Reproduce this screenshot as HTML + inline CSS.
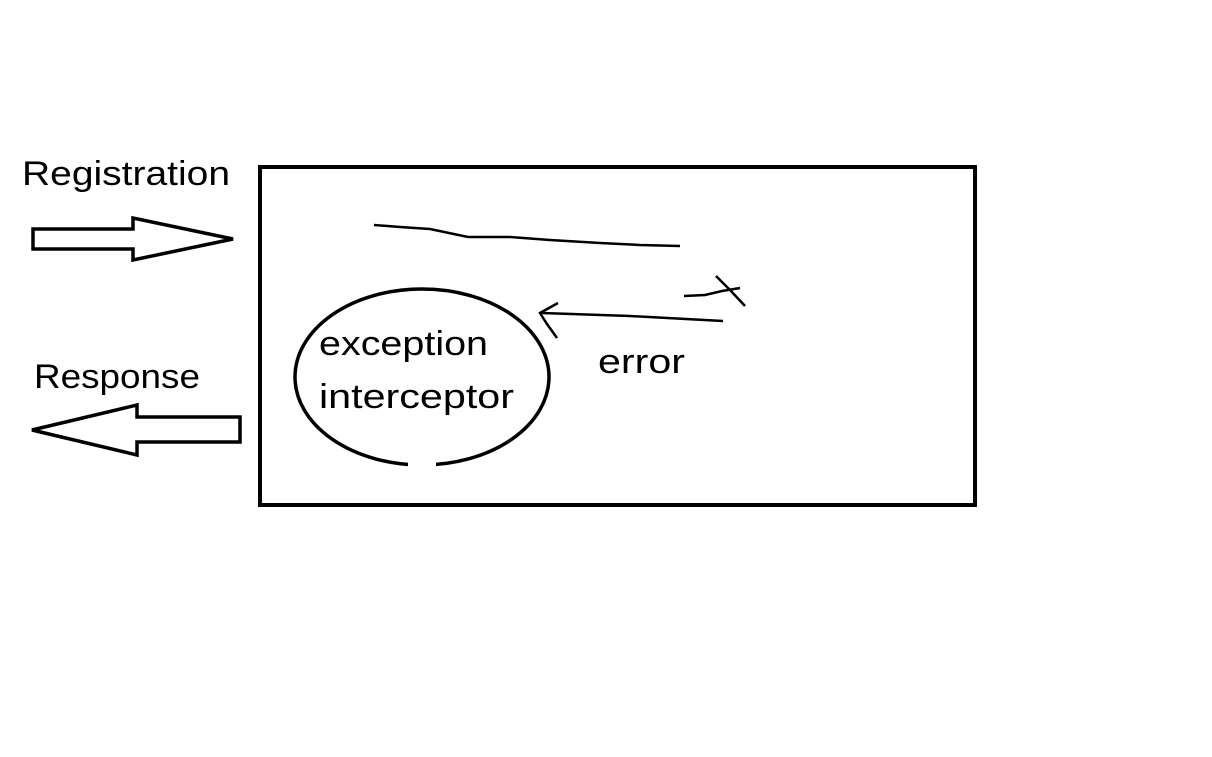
<!DOCTYPE html>
<html><head><style>html,body{margin:0;padding:0;background:#fff;}svg{display:block}</style></head>
<body>
<svg width="1212" height="757" xmlns="http://www.w3.org/2000/svg" font-family="Liberation Sans, sans-serif">
<rect width="1212" height="757" fill="#fff"/>
<rect x="260" y="167" width="715" height="338" fill="none" stroke="#000" stroke-width="4"/>
<polygon points="33,229 133,229 133,218 233,239 133,260 133,249 33,249" fill="#fff" stroke="#000" stroke-width="3.5" stroke-linejoin="miter"/>
<polygon points="240,417 137,417 137,405 32,430 137,455 137,442 240,442" fill="#fff" stroke="#000" stroke-width="3.5"/>
<ellipse cx="422" cy="377" rx="127" ry="88" fill="none" stroke="#000" stroke-width="3.5"/>
<rect x="408" y="460" width="28" height="10" fill="#fff"/>
<text x="22" y="185" font-size="34" textLength="208" lengthAdjust="spacingAndGlyphs">Registration</text>
<text x="34" y="388" font-size="34" textLength="166" lengthAdjust="spacingAndGlyphs">Response</text>
<text x="319" y="355" font-size="34" textLength="169" lengthAdjust="spacingAndGlyphs">exception</text>
<text x="319" y="408" font-size="34" textLength="195" lengthAdjust="spacingAndGlyphs">interceptor</text>
<text x="598" y="373" font-size="34" textLength="87" lengthAdjust="spacingAndGlyphs">error</text>
<polyline points="374,225 400,227 430,229 468,237 510,237 550,240 600,243 640,245 680,246" fill="none" stroke="#000" stroke-width="2.5"/>
<polyline points="542,313 630,316 723,321" fill="none" stroke="#000" stroke-width="2.5"/>
<polyline points="558,303 540,313 547,324 557,338" fill="none" stroke="#000" stroke-width="2.5"/>
<polyline points="684,296 705,295 722,291 740,288" fill="none" stroke="#000" stroke-width="2.5"/>
<polyline points="716,276 730,290 745,306" fill="none" stroke="#000" stroke-width="2.5"/>
</svg>
</body></html>
